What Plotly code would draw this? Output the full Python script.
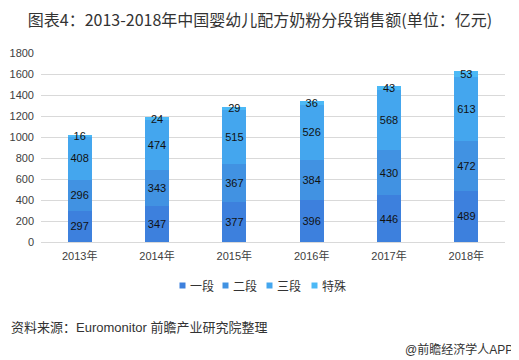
import plotly.graph_objects as go

years = ["2013年", "2014年", "2015年", "2016年", "2017年", "2018年"]
seg1 = [297, 347, 377, 396, 446, 489]
seg2 = [296, 343, 367, 384, 430, 472]
seg3 = [408, 474, 515, 526, 568, 613]
special = [16, 24, 29, 36, 43, 53]
names = ["一段", "二段", "三段", "特殊"]
colors = ["#3D80DD", "#4192E2", "#44A6EE", "#4CB9F6"]
tick_vals = [0, 200, 400, 600, 800, 1000, 1200, 1400, 1600, 1800]

FONT = "Liberation Sans, Noto Sans CJK SC, sans-serif"
CJK = "Noto Sans CJK SC, sans-serif"

# page has an 8px body margin; figure is sized so the visible area matches 519x360
W, H = 511, 352
L, T, R = 33, 45, 14
PW = W - L - R          # plot width  (464)
PH = 189                # plot height
B = H - T - PH

def px_x(x):            # page x (reference coords) -> paper x
    return (x - 8 - L) / PW

def px_y(y):            # page y (reference coords) -> paper y
    return (T + PH - (y - 8)) / PH

fig = go.Figure()
for name, vals, col in zip(names, [seg1, seg2, seg3, special], colors):
    fig.add_trace(go.Bar(
        x=years, y=vals, name=name, marker=dict(color=col, line=dict(width=0)),
        text=[str(v) for v in vals], textposition="inside", insidetextanchor="middle",
        constraintext="none", textangle=0, cliponaxis=False,
        textfont=dict(family=FONT, size=11, color="#111111"),
    ))

fig.update_layout(
    barmode="stack", bargap=0.69,
    width=W, height=H,
    margin=dict(l=L, r=R, t=T, b=B, autoexpand=False),
    paper_bgcolor="white", plot_bgcolor="white",
    font=dict(family=FONT, size=11, color="#404040"),
    title=dict(text="图表4：2013-2018年中国婴幼儿配方奶粉分段销售额(单位：亿元)",
               x=(260 - 8) / W, xref="container", xanchor="center",
               y=1 - (20 - 8) / H, yref="container", yanchor="middle",
               font=dict(family=CJK, size=16, color="#333333")),
    xaxis=dict(showgrid=False, showline=True, linecolor="#D9D9D9", ticks="",
               ticklabelstandoff=4, tickfont=dict(size=11, color="#404040"), automargin=False),
    yaxis=dict(range=[0, 1800], tickvals=tick_vals, showgrid=True, gridcolor="#D9D9D9",
               gridwidth=1, zeroline=False, ticks="", ticklabelstandoff=6,
               tickfont=dict(size=11, color="#404040"), automargin=False),
    showlegend=False,
)

# legend (square + label per series)
sq_x = [182.5, 225.5, 269.5, 314.5]
for i, (name, col) in enumerate(zip(names, colors)):
    fig.add_shape(type="rect", xref="paper", yref="paper", xsizemode="pixel", ysizemode="pixel",
                  xanchor=px_x(sq_x[i]), yanchor=px_y(285.5), x0=-3, x1=3, y0=-3, y1=3,
                  fillcolor=col, line=dict(width=0))
    fig.add_annotation(text=name, xref="paper", yref="paper", x=px_x(sq_x[i] + 5), y=px_y(285),
                       xanchor="left", yanchor="middle", showarrow=False,
                       font=dict(family=CJK, size=12, color="#333333"))

fig.add_annotation(text="资料来源：Euromonitor 前瞻产业研究院整理", xref="paper", yref="paper",
                   x=px_x(9), y=px_y(327), xanchor="left", yanchor="middle", showarrow=False,
                   font=dict(family=FONT, size=13, color="#333333"))
fig.add_annotation(text="@前瞻经济学人APP", xref="paper", yref="paper",
                   x=px_x(515), y=px_y(349), xanchor="right", yanchor="middle", showarrow=False,
                   font=dict(family=FONT, size=12, color="#333333"))

fig.write_html("out.html")
